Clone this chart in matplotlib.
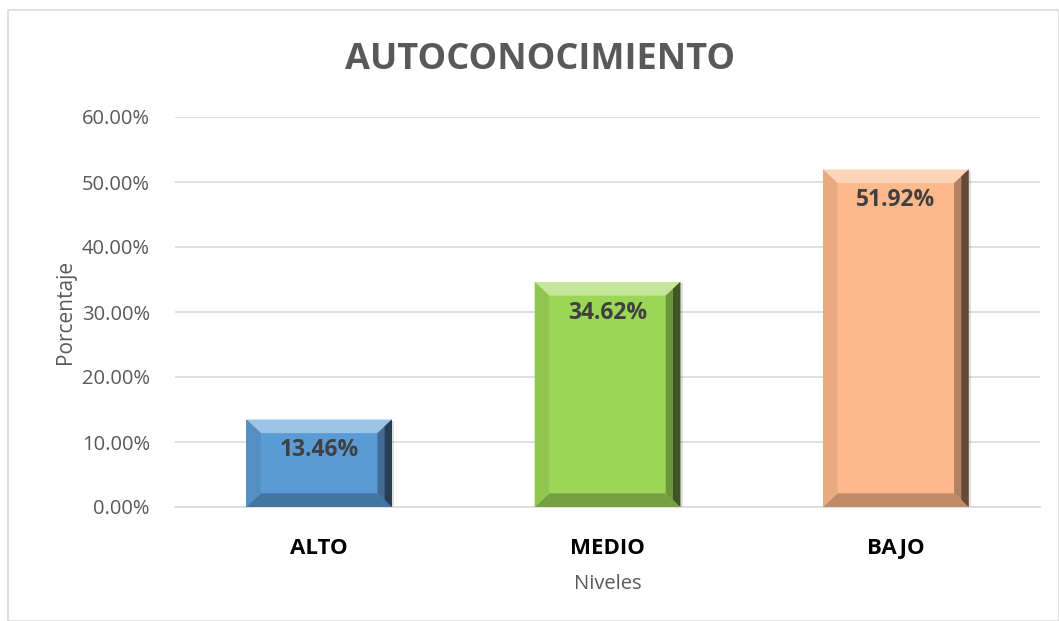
import numpy as np
import matplotlib
matplotlib.use("Agg")
import matplotlib.pyplot as plt
from matplotlib.patches import Polygon, Rectangle
from matplotlib.ticker import FuncFormatter

niveles = ["ALTO", "MEDIO", "BAJO"]
porcentajes = [0.1346, 0.3462, 0.5192]
etiquetas = ["13.46%", "34.62%", "51.92%"]
colores = ["#5b9bd5", "#9cd656", "#fdb98b"]

plt.rcParams['font.family'] = ['Open Sans', 'DejaVu Sans']


def shade(c, f):
    rgb = np.array(matplotlib.colors.to_rgb(c))
    if f > 0:
        rgb = rgb + (1 - rgb) * f
    else:
        rgb = rgb * (1 + f)
    return tuple(np.clip(rgb, 0, 1))


def bevel(ax, x0, x1, y1, color):
    # bevel depth in data units, derived from bar geometry
    dx = (x1 - x0) * 0.1
    dy = 0.6 * 0.035
    y0 = 0.0
    # top face
    ax.add_patch(Polygon([(x0, y1), (x1, y1), (x1 - dx, y1 - dy), (x0 + dx, y1 - dy)],
                         closed=True, fc=shade(color, 0.4), ec="none", zorder=4))
    # right face (two tones for a softer roll-off)
    ax.add_patch(Polygon([(x1, y1), (x1, y0), (x1 - dx, y0 + dy), (x1 - dx, y1 - dy)],
                         closed=True, fc=shade(color, -0.3), ec="none", zorder=4))
    ax.add_patch(Polygon([(x1, y1), (x1, y0), (x1 - dx / 2, y0 + dy / 2), (x1 - dx / 2, y1 - dy / 2)],
                         closed=True, fc=shade(color, -0.6), ec="none", zorder=4))
    # bottom face
    ax.add_patch(Polygon([(x0, y0), (x1, y0), (x1 - dx, y0 + dy), (x0 + dx, y0 + dy)],
                         closed=True, fc=shade(color, -0.25), ec="none", zorder=4))
    # left face
    ax.add_patch(Polygon([(x0, y0), (x0, y1), (x0 + dx, y1 - dy), (x0 + dx, y0 + dy)],
                         closed=True, fc=shade(color, -0.08), ec="none", zorder=4))


fig = plt.figure(figsize=(10.59, 6.21), dpi=100)
fig.patches.append(Rectangle((8 / 1059, 0), 1 - 8 / 1059, 1 - 10 / 621, transform=fig.transFigure,
                             fill=False, ec="#d9d9d9", lw=1.2, zorder=0))
ax = fig.add_axes([175 / 1059, 1 - 507 / 621, 865 / 1059, 390 / 621])

x = np.arange(len(niveles))
w = 0.505
bars = ax.bar(x, porcentajes, width=w, color=colores, zorder=3)
for b, c, lab in zip(bars, colores, etiquetas):
    x0 = b.get_x()
    x1 = x0 + b.get_width()
    h = b.get_height()
    # soft shadow
    ax.add_patch(Rectangle((x0 + 0.008, -0.002), b.get_width(), h, fc="#000000", alpha=0.12,
                           ec="none", zorder=2))
    bevel(ax, x0, x1, h, c)
    ax.text(b.get_x() + b.get_width() / 2, h - 0.047, lab, ha="center", va="center",
            fontsize=16.5, fontweight="bold", color="#404040", zorder=5)

ax.set_xlim(-0.5, 2.5)
ax.set_ylim(0, 0.6)
ax.set_yticks(np.arange(0, 0.61, 0.1))
ax.yaxis.set_major_formatter(FuncFormatter(lambda v, p: f"{v * 100:.2f}%"))
ax.set_xticks(x)
ax.set_xticklabels(niveles, fontsize=16, fontweight="bold", color="black")
ax.tick_params(axis="y", labelsize=14.5, labelcolor="#595959", length=0, pad=18)
ax.tick_params(axis="x", length=0, pad=22)
ax.grid(axis="y", color="#d9d9d9", lw=1.2, zorder=0)
for s in ["top", "right", "left"]:
    ax.spines[s].set_visible(False)
ax.spines["bottom"].set_color("#d9d9d9")
ax.spines["bottom"].set_linewidth(1.2)
ax.set_axisbelow(True)

ax.set_xlabel("Niveles", fontsize=14.5, color="#595959", labelpad=11)
ax.set_ylabel("Porcentaje", fontsize=15, color="#595959", labelpad=4)
fig.text(540 / 1059, 1 - 60 / 621, "AUTOCONOCIMIENTO", ha="center", va="center",
         fontsize=26, fontweight="bold", color="#595959")

fig.savefig("out.png", dpi=100)
